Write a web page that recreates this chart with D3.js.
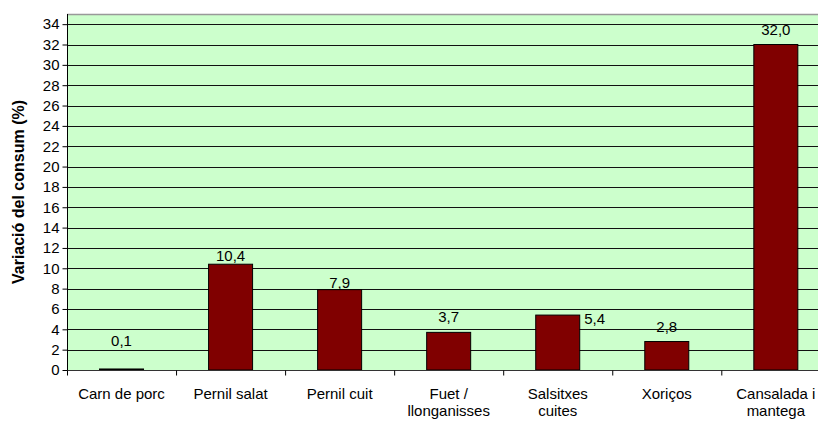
<!DOCTYPE html>
<html>
<head>
<meta charset="utf-8">
<script src="https://cdn.jsdelivr.net/npm/d3@7"></script>
<style>
  body { margin: 0; background: #fff; }
  text { font-family: "Liberation Sans", Arial, sans-serif; }
</style>
</head>
<body>
<svg id="drawing_region"></svg>
<script>
const categories = [
    ["Carn de porc"],
    ["Pernil salat"],
    ["Pernil cuit"],
    ["Fuet /", "llonganisses"],
    ["Salsitxes", "cuites"],
    ["Xoriços"],
    ["Cansalada i", "mantega"]
];
const values = [0.1, 10.4, 7.9, 3.7, 5.4, 2.8, 32.0];
const yTicks = [0, 2, 4, 6, 8, 10, 12, 14, 16, 18, 20, 22, 24, 26, 28, 30, 32, 34];
const yTitle = "Variació del consum (%)";

// label nudges (Excel had some labels moved by hand)
const labelDx = [0, 0, 0, 0, 37, 0, 0];
const labelDy = [-13, 7, 8, 0, 19, 0, 0];

const width = 818, height = 422;
const margin = {top: 14, left: 67, bottom: 52};
const bandW = 109.05;

const svg = d3.select('#drawing_region')
    .attr('width', width)
    .attr('height', height);

const idx = d3.range(categories.length);

const xscale = d3.scaleBand()
    .domain(idx)
    .range([margin.left, margin.left + bandW * categories.length]);

const yscale = d3.scaleLinear()
    .domain([0, 35])
    .range([height - margin.bottom, margin.top]);

const x0 = margin.left, x1 = margin.left + bandW * categories.length;
const y0 = yscale(0), y1 = yscale(35);

// plot background
svg.append('rect')
    .attr('x', x0).attr('y', y1)
    .attr('width', x1 - x0).attr('height', y0 - y1)
    .attr('fill', '#ccffcc');

// gridlines
svg.append('g').selectAll('line')
    .data(yTicks.filter(d => d > 0))
    .join('line')
    .attr('x1', x0).attr('x2', x1)
    .attr('y1', d => Math.round(yscale(d)) + 0.5)
    .attr('y2', d => Math.round(yscale(d)) + 0.5)
    .attr('stroke', '#111')
    .attr('stroke-width', 1.2);

// top border
svg.append('line')
    .attr('x1', x0).attr('x2', x1)
    .attr('y1', Math.round(y1) + 0.5).attr('y2', Math.round(y1) + 0.5)
    .attr('stroke', '#999')
    .attr('stroke-width', 1.5);

// bars
const barW = 44;
svg.append('g').selectAll('rect')
    .data(values)
    .join('rect')
    .attr('x', (d, i) => xscale(i) + (bandW - barW) / 2)
    .attr('y', d => yscale(d))
    .attr('width', barW)
    .attr('height', d => yscale(0) - yscale(d))
    .attr('fill', '#800000')
    .attr('stroke', '#000')
    .attr('stroke-width', 1);

// y axis
const yaxis = d3.axisLeft(yscale)
    .tickValues(yTicks)
    .tickSize(5)
    .tickPadding(3);
const yg = svg.append('g')
    .attr('transform', `translate(${Math.round(x0) + 0.5},0)`)
    .call(yaxis);
yg.selectAll('text').attr('font-size', 15).attr('font-family', null).attr('fill', '#000');
yg.selectAll('line').attr('stroke', '#000');
yg.select('.domain').attr('stroke', '#000').attr('d', `M0,${y1}V${y0}`);

// x axis
const xaxis = d3.axisBottom(d3.scaleLinear().domain([0, categories.length]).range([x0, x1]))
    .tickValues(d3.range(categories.length + 1))
    .tickSize(5)
    .tickFormat('');
const xg = svg.append('g')
    .attr('transform', `translate(0,${Math.round(y0) + 0.5})`)
    .call(xaxis);
xg.selectAll('line').attr('stroke', '#000');
xg.select('.domain').attr('stroke', '#333').attr('d', `M${x0},0H${x1}`);

// category labels
svg.append('g').selectAll('text')
    .data(categories)
    .join('text')
    .attr('x', (d, i) => xscale(i) + bandW / 2)
    .attr('y', y0 + 29)
    .attr('text-anchor', 'middle')
    .attr('font-size', 15)
    .attr('fill', '#000')
    .selectAll('tspan')
    .data(d => d)
    .join('tspan')
    .attr('x', function() { return this.parentNode.getAttribute('x'); })
    .attr('dy', (d, j) => j === 0 ? 0 : 17)
    .text(d => d);

// value labels
svg.append('g').selectAll('text')
    .data(values)
    .join('text')
    .attr('x', (d, i) => xscale(i) + bandW / 2 + labelDx[i])
    .attr('y', (d, i) => yscale(d) - 10 + labelDy[i])
    .attr('text-anchor', 'middle')
    .attr('font-size', 15)
    .attr('fill', '#000')
    .text(d => d3.format('.1f')(d).replace('.', ','));

// y title
svg.append('text')
    .attr('transform', `translate(24,${(y0 + y1) / 2}) rotate(-90)`)
    .attr('text-anchor', 'middle')
    .attr('font-size', 16)
    .attr('font-weight', 'bold')
    .attr('fill', '#000')
    .text(yTitle);
</script>
</body>
</html>
